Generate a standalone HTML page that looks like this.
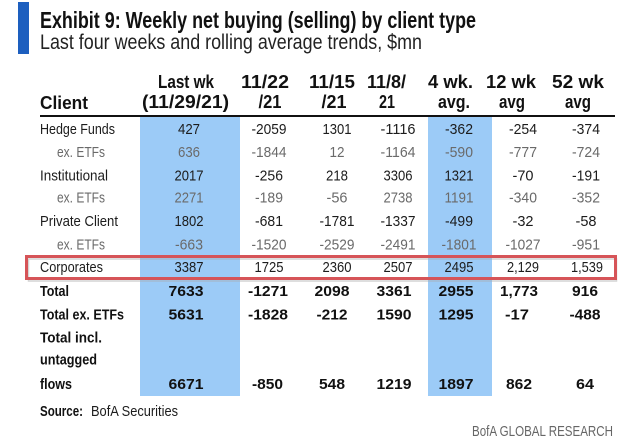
<!DOCTYPE html>
<html>
<head>
<meta charset="utf-8">
<style>
html,body{margin:0;padding:0;background:#fff;}
svg{display:block;}
text{font-family:"Liberation Sans",sans-serif;}
.r{font-size:15px;fill:#1c1c1c;}
.g{font-size:15px;fill:#6a6a6a;}
.b{font-size:15px;font-weight:bold;fill:#111;}
.h{font-size:18px;font-weight:bold;fill:#111;}
</style>
</head>
<body>
<svg width="627" height="439" viewBox="0 0 627 439" xmlns="http://www.w3.org/2000/svg">
<rect x="0" y="0" width="627" height="439" fill="#fff"/>
<!-- title -->
<rect x="18" y="2" width="11" height="52" fill="#1d5fbf"/>
<text x="40" y="28" font-size="23" font-weight="bold" fill="#111" textLength="436" lengthAdjust="spacingAndGlyphs">Exhibit 9: Weekly net buying (selling) by client type</text>
<text x="40" y="49" font-size="21" fill="#222" textLength="382" lengthAdjust="spacingAndGlyphs">Last four weeks and rolling average trends, $mn</text>

<!-- blue columns -->
<rect x="140" y="117" width="100" height="279" fill="#9ccbf7"/>
<rect x="428" y="117" width="64" height="279" fill="#9ccbf7"/>

<!-- headers -->
<g class="h" text-anchor="middle">
<text x="186" y="88" textLength="56" lengthAdjust="spacingAndGlyphs">Last wk</text>
<text x="185.5" y="108" textLength="87" lengthAdjust="spacingAndGlyphs">(11/29/21)</text>
<text x="265" y="88" textLength="48" lengthAdjust="spacingAndGlyphs">11/22</text>
<text x="270" y="108" textLength="23" lengthAdjust="spacingAndGlyphs">/21</text>
<text x="332" y="88" textLength="46" lengthAdjust="spacingAndGlyphs">11/15</text>
<text x="334" y="108" textLength="25" lengthAdjust="spacingAndGlyphs">/21</text>
<text x="386.5" y="88" textLength="39" lengthAdjust="spacingAndGlyphs">11/8/</text>
<text x="387" y="108" textLength="16" lengthAdjust="spacingAndGlyphs">21</text>
<text x="450.5" y="88" textLength="45" lengthAdjust="spacingAndGlyphs">4 wk.</text>
<text x="454" y="108" textLength="32" lengthAdjust="spacingAndGlyphs">avg.</text>
<text x="511" y="88" textLength="50" lengthAdjust="spacingAndGlyphs">12 wk</text>
<text x="512" y="108" textLength="26" lengthAdjust="spacingAndGlyphs">avg</text>
<text x="578" y="88" textLength="52" lengthAdjust="spacingAndGlyphs">52 wk</text>
<text x="578" y="108" textLength="26" lengthAdjust="spacingAndGlyphs">avg</text>
</g>
<text class="h" x="40" y="109" textLength="48" lengthAdjust="spacingAndGlyphs">Client</text>
<rect x="40" y="115" width="575" height="2" fill="#111"/>

<!-- row labels -->
<text class="r" x="40" y="134" textLength="75" lengthAdjust="spacingAndGlyphs">Hedge Funds</text>
<text class="g" x="57" y="157" textLength="48" lengthAdjust="spacingAndGlyphs">ex. ETFs</text>
<text class="r" x="40" y="180.5" textLength="68" lengthAdjust="spacingAndGlyphs">Institutional</text>
<text class="g" x="57" y="202.5" textLength="48" lengthAdjust="spacingAndGlyphs">ex. ETFs</text>
<text class="r" x="40" y="226" textLength="78" lengthAdjust="spacingAndGlyphs">Private Client</text>
<text class="g" x="57" y="249.5" textLength="48" lengthAdjust="spacingAndGlyphs">ex. ETFs</text>
<text class="r" x="40" y="272" textLength="63" lengthAdjust="spacingAndGlyphs">Corporates</text>
<text class="b" x="40" y="296" textLength="29" lengthAdjust="spacingAndGlyphs">Total</text>
<text class="b" x="40" y="319.5" textLength="84" lengthAdjust="spacingAndGlyphs">Total  ex. ETFs</text>
<text class="b" x="40" y="342.5" textLength="62" lengthAdjust="spacingAndGlyphs">Total  incl.</text>
<text class="b" x="40" y="364.5" textLength="57" lengthAdjust="spacingAndGlyphs">untagged</text>
<text class="b" x="40" y="389" textLength="32" lengthAdjust="spacingAndGlyphs">flows</text>

<!-- regular rows -->
<g class="r" text-anchor="middle">
<text x="189" y="134" textLength="22" lengthAdjust="spacingAndGlyphs">427</text>
<text x="269" y="134" textLength="35" lengthAdjust="spacingAndGlyphs">-2059</text>
<text x="337" y="134" textLength="29" lengthAdjust="spacingAndGlyphs">1301</text>
<text x="398" y="134" textLength="35" lengthAdjust="spacingAndGlyphs">-1116</text>
<text x="459" y="134" textLength="28" lengthAdjust="spacingAndGlyphs">-362</text>
<text x="523" y="134" textLength="28" lengthAdjust="spacingAndGlyphs">-254</text>
<text x="586" y="134" textLength="28" lengthAdjust="spacingAndGlyphs">-374</text>

<text x="189" y="180.5" textLength="29" lengthAdjust="spacingAndGlyphs">2017</text>
<text x="269" y="180.5" textLength="28" lengthAdjust="spacingAndGlyphs">-256</text>
<text x="337" y="180.5" textLength="22" lengthAdjust="spacingAndGlyphs">218</text>
<text x="398" y="180.5" textLength="29" lengthAdjust="spacingAndGlyphs">3306</text>
<text x="459" y="180.5" textLength="29" lengthAdjust="spacingAndGlyphs">1321</text>
<text x="523" y="180.5" textLength="21" lengthAdjust="spacingAndGlyphs">-70</text>
<text x="586" y="180.5" textLength="28" lengthAdjust="spacingAndGlyphs">-191</text>

<text x="189" y="226" textLength="29" lengthAdjust="spacingAndGlyphs">1802</text>
<text x="269" y="226" textLength="28" lengthAdjust="spacingAndGlyphs">-681</text>
<text x="337" y="226" textLength="35" lengthAdjust="spacingAndGlyphs">-1781</text>
<text x="398" y="226" textLength="35" lengthAdjust="spacingAndGlyphs">-1337</text>
<text x="459" y="226" textLength="28" lengthAdjust="spacingAndGlyphs">-499</text>
<text x="523" y="226" textLength="21" lengthAdjust="spacingAndGlyphs">-32</text>
<text x="586" y="226" textLength="21" lengthAdjust="spacingAndGlyphs">-58</text>

<text x="189" y="272" textLength="29" lengthAdjust="spacingAndGlyphs">3387</text>
<text x="269" y="272" textLength="29" lengthAdjust="spacingAndGlyphs">1725</text>
<text x="337" y="272" textLength="29" lengthAdjust="spacingAndGlyphs">2360</text>
<text x="398" y="272" textLength="29" lengthAdjust="spacingAndGlyphs">2507</text>
<text x="459" y="272" textLength="29" lengthAdjust="spacingAndGlyphs">2495</text>
<text x="523" y="272" textLength="32" lengthAdjust="spacingAndGlyphs">2,129</text>
<text x="587" y="272" textLength="32" lengthAdjust="spacingAndGlyphs">1,539</text>
</g>

<!-- gray rows -->
<g class="g" text-anchor="middle">
<text x="189" y="157" textLength="22" lengthAdjust="spacingAndGlyphs">636</text>
<text x="269" y="157" textLength="35" lengthAdjust="spacingAndGlyphs">-1844</text>
<text x="337" y="157" textLength="15" lengthAdjust="spacingAndGlyphs">12</text>
<text x="398" y="157" textLength="35" lengthAdjust="spacingAndGlyphs">-1164</text>
<text x="459" y="157" textLength="28" lengthAdjust="spacingAndGlyphs">-590</text>
<text x="523" y="157" textLength="28" lengthAdjust="spacingAndGlyphs">-777</text>
<text x="586" y="157" textLength="28" lengthAdjust="spacingAndGlyphs">-724</text>

<text x="189" y="202.5" textLength="29" lengthAdjust="spacingAndGlyphs">2271</text>
<text x="269" y="202.5" textLength="28" lengthAdjust="spacingAndGlyphs">-189</text>
<text x="337" y="202.5" textLength="21" lengthAdjust="spacingAndGlyphs">-56</text>
<text x="398" y="202.5" textLength="29" lengthAdjust="spacingAndGlyphs">2738</text>
<text x="459" y="202.5" textLength="29" lengthAdjust="spacingAndGlyphs">1191</text>
<text x="523" y="202.5" textLength="28" lengthAdjust="spacingAndGlyphs">-340</text>
<text x="586" y="202.5" textLength="28" lengthAdjust="spacingAndGlyphs">-352</text>

<text x="189" y="249.5" textLength="28" lengthAdjust="spacingAndGlyphs">-663</text>
<text x="269" y="249.5" textLength="35" lengthAdjust="spacingAndGlyphs">-1520</text>
<text x="337" y="249.5" textLength="35" lengthAdjust="spacingAndGlyphs">-2529</text>
<text x="398" y="249.5" textLength="35" lengthAdjust="spacingAndGlyphs">-2491</text>
<text x="459" y="249.5" textLength="35" lengthAdjust="spacingAndGlyphs">-1801</text>
<text x="523" y="249.5" textLength="35" lengthAdjust="spacingAndGlyphs">-1027</text>
<text x="586" y="249.5" textLength="28" lengthAdjust="spacingAndGlyphs">-951</text>
</g>

<!-- bold rows -->
<g class="b" text-anchor="middle">
<text x="186" y="296" textLength="35" lengthAdjust="spacingAndGlyphs">7633</text>
<text x="268" y="296" textLength="40" lengthAdjust="spacingAndGlyphs">-1271</text>
<text x="332" y="296" textLength="35" lengthAdjust="spacingAndGlyphs">2098</text>
<text x="394" y="296" textLength="35" lengthAdjust="spacingAndGlyphs">3361</text>
<text x="456" y="296" textLength="35" lengthAdjust="spacingAndGlyphs">2955</text>
<text x="519" y="296" textLength="38" lengthAdjust="spacingAndGlyphs">1,773</text>
<text x="585" y="296" textLength="26" lengthAdjust="spacingAndGlyphs">916</text>

<text x="186" y="319.5" textLength="35" lengthAdjust="spacingAndGlyphs">5631</text>
<text x="268" y="319.5" textLength="40" lengthAdjust="spacingAndGlyphs">-1828</text>
<text x="332" y="319.5" textLength="31" lengthAdjust="spacingAndGlyphs">-212</text>
<text x="394" y="319.5" textLength="35" lengthAdjust="spacingAndGlyphs">1590</text>
<text x="456" y="319.5" textLength="35" lengthAdjust="spacingAndGlyphs">1295</text>
<text x="517" y="319.5" textLength="24" lengthAdjust="spacingAndGlyphs">-17</text>
<text x="585" y="319.5" textLength="31" lengthAdjust="spacingAndGlyphs">-488</text>

<text x="186" y="389" textLength="35" lengthAdjust="spacingAndGlyphs">6671</text>
<text x="267.5" y="389" textLength="31" lengthAdjust="spacingAndGlyphs">-850</text>
<text x="332" y="389" textLength="26" lengthAdjust="spacingAndGlyphs">548</text>
<text x="394" y="389" textLength="35" lengthAdjust="spacingAndGlyphs">1219</text>
<text x="456" y="389" textLength="35" lengthAdjust="spacingAndGlyphs">1897</text>
<text x="519" y="389" textLength="26" lengthAdjust="spacingAndGlyphs">862</text>
<text x="585" y="389" textLength="18" lengthAdjust="spacingAndGlyphs">64</text>
</g>

<!-- red highlight -->
<rect x="28.5" y="259" width="588" height="22" fill="none" stroke="#aaa" stroke-width="1.5" opacity="0.5"/>
<rect x="26.5" y="256.5" width="589" height="22" fill="none" stroke="#d65458" stroke-width="3"/>

<!-- footer -->
<text class="b" x="40" y="416" textLength="43" lengthAdjust="spacingAndGlyphs">Source:</text>
<text class="r" x="91" y="416" textLength="87" lengthAdjust="spacingAndGlyphs">BofA Securities</text>
<text x="472" y="436" font-size="15" fill="#666" textLength="141" lengthAdjust="spacingAndGlyphs">BofA GLOBAL RESEARCH</text>
</svg>
</body>
</html>
